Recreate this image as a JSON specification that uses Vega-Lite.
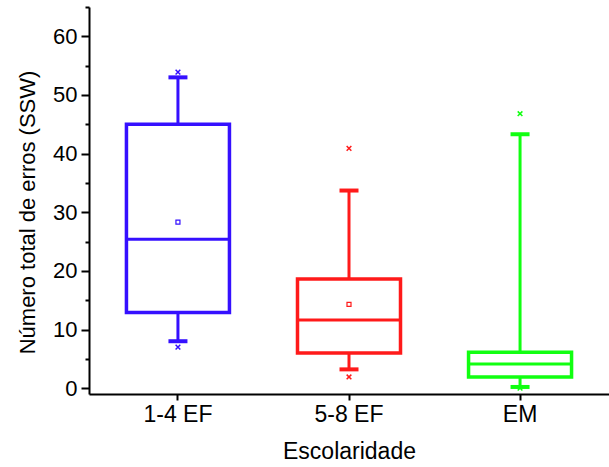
{
  "$schema": "https://vega.github.io/schema/vega-lite/v6.json",
  "width": 520,
  "height": 387,
  "autosize": "none",
  "padding": {"left": 89, "top": 7, "right": 0, "bottom": 73},
  "background": "white",
  "config": {
    "view": {"stroke": null},
    "font": "Liberation Sans",
    "axis": {
      "grid": false,
      "domainColor": "#000000",
      "domainWidth": 2,
      "tickColor": "#000000",
      "tickWidth": 2,
      "labelColor": "#000000",
      "titleColor": "#000000",
      "labelFontSize": 22,
      "titleFontSize": 22,
      "labelFont": "Liberation Sans",
      "titleFont": "Liberation Sans",
      "titleFontWeight": "normal"
    }
  },
  "datasets": {
    "boxes": [
      {"group": "1-4 EF", "lower": 8.0, "q1": 12.9, "median": 25.4, "q3": 45.0, "upper": 53.0},
      {"group": "5-8 EF", "lower": 3.2, "q1": 6.0, "median": 11.6, "q3": 18.6, "upper": 33.7},
      {"group": "EM", "lower": 0.2, "q1": 1.9, "median": 4.1, "q3": 6.1, "upper": 43.3}
    ],
    "means": [
      {"group": "1-4 EF", "mean": 28.3},
      {"group": "5-8 EF", "mean": 14.3}
    ],
    "extremes": [
      {"group": "1-4 EF", "value": 53.9},
      {"group": "1-4 EF", "value": 7.0},
      {"group": "5-8 EF", "value": 40.9},
      {"group": "5-8 EF", "value": 1.9},
      {"group": "EM", "value": 46.8},
      {"group": "EM", "value": 0.0}
    ]
  },
  "data": {"name": "boxes"},
  "encoding": {
    "x": {
      "field": "group",
      "type": "nominal",
      "scale": {"domain": ["1-4 EF", "5-8 EF", "EM"], "paddingInner": 0, "paddingOuter": 0.02},
      "axis": {"title": "Escolaridade", "labelAngle": 0, "tickSize": 6, "labelPadding": 3, "titlePadding": 14, "labelFontSize": 23, "titleFontSize": 23}
    },
    "color": {
      "field": "group",
      "type": "nominal",
      "scale": {"domain": ["1-4 EF", "5-8 EF", "EM"], "range": ["#3510ff", "#ff1a1a", "#11ff11"]},
      "legend": null
    }
  },
  "layer": [
    {
      "mark": {"type": "rule", "strokeWidth": 3},
      "encoding": {
        "y": {
          "field": "lower",
          "type": "quantitative",
          "scale": {"domain": [-1, 65], "nice": false, "zero": false},
          "axis": {
            "orient": "left",
            "values": [0, 10, 20, 30, 40, 50, 60],
            "tickSize": 8,
            "labelPadding": 4,
            "title": "Número total de erros (SSW)",
            "titleX": -50,
            "titleY": 205,
            "titleAngle": 270,
            "titleAlign": "center",
            "titleBaseline": "bottom"
          }
        },
        "y2": {"field": "upper"}
      }
    },
    {
      "mark": {"type": "bar", "fill": "white", "strokeWidth": 3.5, "size": 103},
      "encoding": {
        "y": {
          "field": "q1",
          "type": "quantitative",
          "axis": {
            "orient": "left",
            "values": [5, 15, 25, 35, 45, 55, 65],
            "tickSize": 4,
            "labels": false,
            "domain": false,
            "title": null
          }
        },
        "y2": {"field": "q3"},
        "stroke": {
          "field": "group",
          "type": "nominal",
          "scale": {"domain": ["1-4 EF", "5-8 EF", "EM"], "range": ["#3510ff", "#ff1a1a", "#11ff11"]},
          "legend": null
        }
      }
    },
    {
      "mark": {"type": "tick", "thickness": 3, "size": 103, "opacity": 1},
      "encoding": {"y": {"field": "median", "type": "quantitative", "axis": null}}
    },
    {
      "mark": {"type": "tick", "thickness": 4, "size": 19, "opacity": 1},
      "encoding": {"y": {"field": "lower", "type": "quantitative", "axis": null}}
    },
    {
      "mark": {"type": "tick", "thickness": 4, "size": 19, "opacity": 1},
      "encoding": {"y": {"field": "upper", "type": "quantitative", "axis": null}}
    },
    {
      "data": {"name": "means"},
      "mark": {"type": "point", "shape": "square", "filled": false, "size": 16, "strokeWidth": 1.2, "opacity": 1},
      "encoding": {"y": {"field": "mean", "type": "quantitative", "axis": null}}
    },
    {
      "data": {"name": "extremes"},
      "mark": {"type": "point", "shape": "M-1,-1L1,1M1,-1L-1,1", "filled": false, "size": 22, "strokeWidth": 1.5, "opacity": 1},
      "encoding": {"y": {"field": "value", "type": "quantitative", "axis": null}}
    }
  ],
  "resolve": {"axis": {"y": "independent"}}
}
